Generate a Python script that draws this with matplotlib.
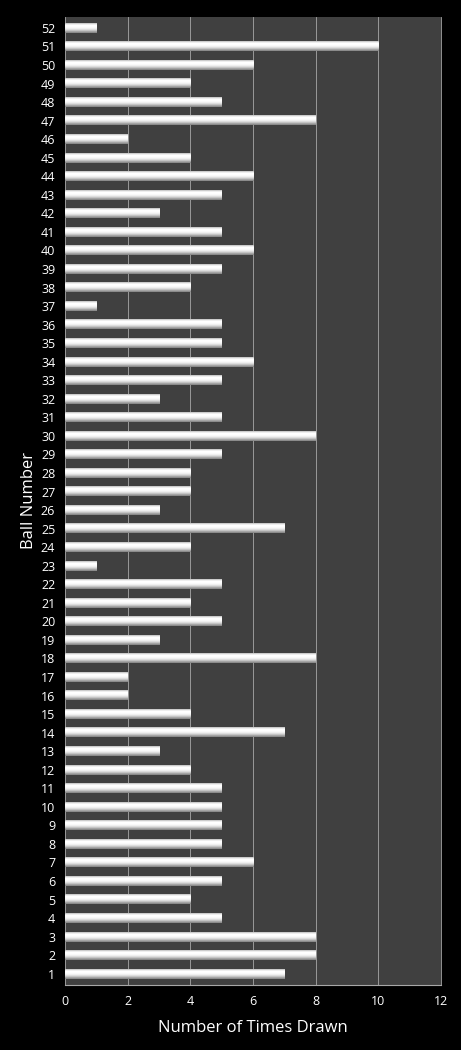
import matplotlib
matplotlib.use('Agg')
import matplotlib.pyplot as plt
import numpy as np

plt.rcParams['font.family'] = ['Open Sans', 'DejaVu Sans']

# times each ball was drawn, ball 1 .. 52
balls = list(range(1, 53))
times_drawn = [7, 8, 8, 5, 4, 5, 6, 5, 5, 5,
               5, 4, 3, 7, 4, 2, 2, 8, 3, 5,
               4, 5, 1, 4, 7, 3, 4, 4, 5, 8,
               5, 3, 5, 6, 5, 5, 1, 4, 5, 6,
               5, 3, 5, 6, 4, 2, 8, 5, 4, 6,
               10, 1]
x_ticks = [0, 2, 4, 6, 8, 10, 12]

fig = plt.figure(figsize=(4.61, 10.5), dpi=100, facecolor='black')
ax = fig.add_axes([0.141, 0.062, 0.816, 0.922])
ax.set_facecolor('#404040')

# vertical shading for the bars (top row first): light edge, white, grey bottom
shade = np.array([0.80, 0.93, 1.0, 1.0, 0.98, 0.94, 0.87, 0.77, 0.65, 0.55]).reshape(-1, 1)
bar_h = 0.52
for b, v in zip(balls, times_drawn):
    ax.imshow(shade, cmap='gray', vmin=0, vmax=1, aspect='auto', origin='upper',
              extent=(0, v, b - bar_h / 2, b + bar_h / 2),
              interpolation='bilinear', zorder=3)

ax.set_xlim(0, 12)
ax.set_ylim(0.4, 52.6)
ax.set_xticks(x_ticks)
ax.set_yticks(balls)
ax.set_yticklabels([str(b) for b in balls])
ax.xaxis.grid(True, color='#a8a8a8', linewidth=0.6, zorder=1)
ax.set_axisbelow(True)

for s in ['top', 'left']:
    ax.spines[s].set_visible(False)
ax.spines['right'].set_color('#a8a8a8')
ax.spines['right'].set_linewidth(0.6)
ax.spines['bottom'].set_color('#a8a8a8')
ax.spines['bottom'].set_linewidth(0.8)

ax.tick_params(axis='both', colors='white', labelsize=9, length=0, pad=7)
ax.set_xlabel('Number of Times Drawn', color='white', fontsize=12, labelpad=9)
ax.set_ylabel('Ball Number', color='white', fontsize=12, labelpad=3)

fig.savefig('out.png', dpi=100, facecolor='black')
